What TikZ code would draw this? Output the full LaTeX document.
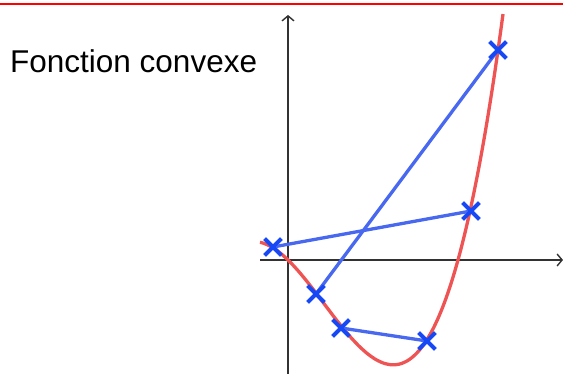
\documentclass[tikz,border=0pt]{standalone}
\usepackage{fontspec}
\setmainfont{Liberation Sans}
\usepackage{tikz}
\usetikzlibrary{positioning,arrows.meta,shapes.misc}
\definecolor{curvered}{RGB}{238,84,84}
\definecolor{chordblue}{RGB}{72,104,240}
\definecolor{markblue}{RGB}{22,72,245}
\definecolor{axisgray}{RGB}{50,50,50}
\tikzset{
  axisline/.style={-{Straight Barb[length=5pt,width=12pt]}, line width=1.4pt, axisgray},
  curveline/.style={curvered, line width=3.3pt},
  chord/.style={chordblue, line width=3.3pt},
  crossmark/.style={cross out, draw=markblue, line width=3.6pt, minimum size=13pt, inner sep=0pt},
  titlenode/.style={font=\fontsize{31.5}{36}\selectfont, anchor=base west, inner sep=0pt}
}

\begin{document}
\begin{tikzpicture}[x=1pt, y=1pt]
      \useasboundingbox (-288,-114) rectangle (275,260);
      \draw[red, line width=2.6pt] (-288,256) -- (275,256);
      \node[titlenode] (title) at (-278,187) {Fonction convexe};
      % axes
      \coordinate (xstart) at (-28,0);
      \coordinate (xend) at (275,0);
      \coordinate (ystart) at (0,-114);
      \coordinate (yend) at (0,245);
      \draw[axisline] (xstart) -- (xend);
      \draw[axisline] (ystart) -- (yend);
      % convex-looking curve
      \draw[curveline] plot[domain=-28:215, samples=120, smooth] (\x, {\x*(\x-170)*(0.00576+0.0000916*\x)});
      % points on the curve
      \node[crossmark] (p1) at (-15,13) {};
      \node[crossmark] (p2) at (28,-34) {};
      \node[crossmark] (p3) at (53,-68) {};
      \node[crossmark] (p4) at (139,-81) {};
      \node[crossmark] (p5) at (183,49) {};
      \node[crossmark] (p6) at (210,210) {};
      \draw[chord] (p1.center) -- (p5.center);
      \draw[chord] (p2.center) -- (p6.center);
      \draw[chord] (p3.center) -- (p4.center);
      \node[crossmark] at (p1) {};
      \node[crossmark] at (p2) {};
      \node[crossmark] at (p3) {};
      \node[crossmark] at (p4) {};
      \node[crossmark] at (p5) {};
      \node[crossmark] at (p6) {};
\end{tikzpicture}
\end{document}
